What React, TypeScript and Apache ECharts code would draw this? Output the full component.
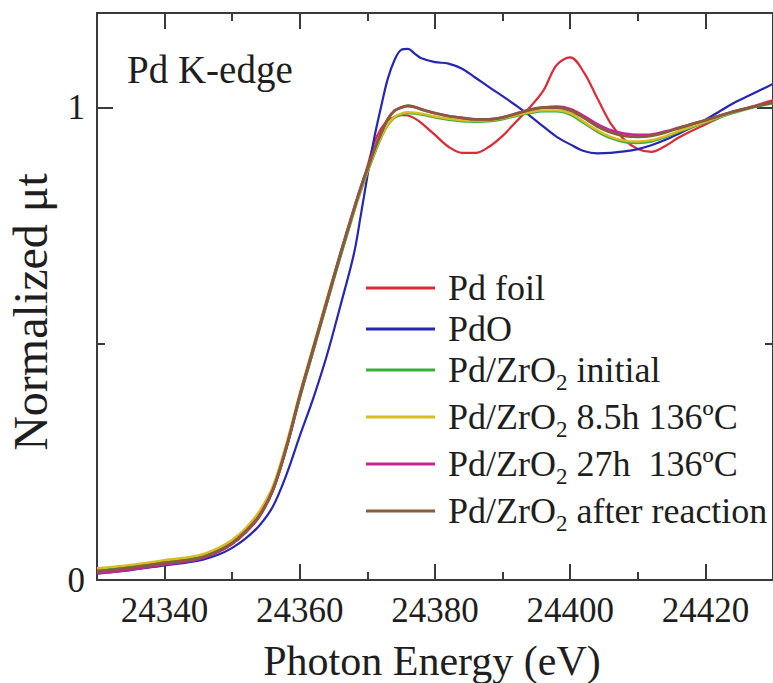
import React, { useEffect, useRef } from "react";
import * as echarts from "echarts";

const energy = [
  24330, 24335, 24340, 24345, 24348, 24350, 24352, 24354, 24356, 24358, 24360, 24362, 24364, 24366, 24368,
  24369, 24370, 24371, 24372, 24373, 24374, 24375, 24376, 24377, 24378,
  24380, 24382, 24384, 24386, 24388, 24390, 24392, 24394, 24396, 24398, 24400, 24402, 24404, 24406, 24408,
  24410, 24412, 24414, 24416, 24418, 24420, 24422, 24424, 24426, 24428, 24430,
];

const pdFoil = [
  0.016, 0.024, 0.034, 0.044, 0.06, 0.076, 0.1, 0.133, 0.188, 0.278, 0.385, 0.485, 0.585, 0.685, 0.78,
  0.83, 0.875, 0.925, 0.955, 0.972, 0.98, 0.984, 0.983, 0.977, 0.967,
  0.942, 0.917, 0.904, 0.904, 0.917, 0.94, 0.97, 1.0, 1.035, 1.09, 1.106, 1.075, 1.02, 0.966, 0.932,
  0.912, 0.906, 0.918, 0.936, 0.951, 0.964, 0.978, 0.99, 0.998, 1.007, 1.015,
];

const pdO = [
  0.014, 0.021, 0.031, 0.041, 0.054, 0.068, 0.088, 0.115, 0.155, 0.222, 0.305, 0.385, 0.475, 0.58, 0.69,
  0.77, 0.855, 0.935, 1.0, 1.06, 1.1, 1.122, 1.124, 1.114, 1.104,
  1.096, 1.093, 1.082, 1.063, 1.043, 1.024, 1.004, 0.983, 0.96, 0.938, 0.922, 0.908, 0.903, 0.904, 0.907,
  0.912, 0.92, 0.931, 0.944, 0.958, 0.974, 0.991, 1.008, 1.022, 1.036, 1.05,
];

const initialZr = [
  0.02, 0.028, 0.038, 0.048, 0.064, 0.08, 0.105, 0.138, 0.19, 0.278, 0.385, 0.485, 0.585, 0.683, 0.778,
  0.822, 0.862, 0.9, 0.935, 0.962, 0.978, 0.985, 0.988, 0.987, 0.985,
  0.979, 0.974, 0.971, 0.97, 0.971, 0.975, 0.982, 0.988, 0.992, 0.992, 0.985, 0.967, 0.949, 0.935, 0.927,
  0.925, 0.928, 0.937, 0.948, 0.958, 0.968, 0.978, 0.988, 0.996, 1.003, 1.009,
];

const h85Zr = [
  0.025, 0.032, 0.042, 0.052, 0.068, 0.085, 0.11, 0.145, 0.198, 0.288, 0.395, 0.495, 0.595, 0.69, 0.782,
  0.825, 0.865, 0.903, 0.937, 0.964, 0.98, 0.987, 0.99, 0.989, 0.987,
  0.981, 0.976, 0.973, 0.972, 0.973, 0.977, 0.984, 0.99, 0.994, 0.994, 0.988, 0.97, 0.952, 0.938, 0.93,
  0.928, 0.931, 0.939, 0.95, 0.96, 0.97, 0.98, 0.99, 0.998, 1.005, 1.011,
];

const h27Zr = [
  0.014, 0.022, 0.033, 0.044, 0.06, 0.077, 0.102, 0.135, 0.19, 0.28, 0.39, 0.49, 0.59, 0.69, 0.785,
  0.83, 0.87, 0.91, 0.945, 0.975, 0.993, 1.0, 1.003, 1.001, 0.996,
  0.988, 0.982, 0.978, 0.975, 0.975, 0.979, 0.987, 0.995, 1.0, 1.002, 0.997, 0.982, 0.965, 0.952, 0.945,
  0.942, 0.943, 0.949, 0.957, 0.965, 0.973, 0.982, 0.991, 0.998, 1.005, 1.011,
];

const afterZr = [
  0.018, 0.026, 0.036, 0.046, 0.062, 0.078, 0.103, 0.136, 0.19, 0.28, 0.39, 0.49, 0.59, 0.69, 0.785,
  0.83, 0.87, 0.91, 0.945, 0.975, 0.993, 1.0, 1.004, 1.001, 0.996,
  0.988, 0.982, 0.978, 0.975, 0.975, 0.979, 0.987, 0.995, 1.0, 1.0, 0.994, 0.978, 0.96, 0.947, 0.94,
  0.938, 0.94, 0.947, 0.956, 0.965, 0.973, 0.982, 0.991, 0.998, 1.005, 1.011,
];

const seriesNames = [
  "Pd foil",
  "PdO",
  "Pd/ZrO2 initial",
  "Pd/ZrO2 8.5h 136ºC",
  "Pd/ZrO2 27h  136ºC",
  "Pd/ZrO2 after reaction",
];
const seriesValues = [pdFoil, pdO, initialZr, h85Zr, h27Zr, afterZr];
const seriesColors = ["#dc2a36", "#2626b4", "#3aae3a", "#d8bc22", "#c8249a", "#8a5a3c"];
const seriesWidths = [2.2, 2.2, 2.4, 2.4, 2.6, 2.8];

const xMajorTicks = [24340, 24360, 24380, 24400, 24420];
const xMinorTicks = [24350, 24370, 24390, 24410];
const yMajorTicks = [0, 1];
const yMinorTicks = [0.5];

const FONT = "Liberation Serif";
const AXIS_COLOR = "#3a3a3a";
const TEXT_COLOR = "#1e1e1e";

export default function App() {
  const ref = useRef<HTMLDivElement>(null);

  useEffect(() => {
    if (!ref.current) return;
    const chart = echarts.init(ref.current, undefined, { renderer: "svg" });

    const xBase = {
      type: "value",
      min: 24330,
      max: 24430,
      splitLine: { show: false },
    };
    const yBase = {
      type: "value",
      min: 0,
      max: 1.2,
      splitLine: { show: false },
    };

    const mkX = (position: string, ticks: number[], len: number, labels: boolean, line: boolean) => ({
      ...xBase,
      position,
      axisLine: { show: line, onZero: false, lineStyle: { color: AXIS_COLOR, width: 2 } },
      axisTick: { show: true, inside: true, length: len, customValues: ticks, lineStyle: { color: AXIS_COLOR, width: 2 } },
      axisLabel: labels
        ? {
            show: true,
            customValues: ticks,
            fontFamily: FONT,
            fontSize: 35,
            color: TEXT_COLOR,
            margin: 13,
            formatter: (v: number) => String(v),
          }
        : { show: false },
    });
    const mkY = (position: string, ticks: number[], len: number, labels: boolean, line: boolean) => ({
      ...yBase,
      position,
      axisLine: { show: line, onZero: false, lineStyle: { color: AXIS_COLOR, width: 2 } },
      axisTick: { show: true, inside: true, length: len, customValues: ticks, lineStyle: { color: AXIS_COLOR, width: 2 } },
      axisLabel: labels
        ? {
            show: true,
            customValues: ticks,
            fontFamily: FONT,
            fontSize: 35,
            color: TEXT_COLOR,
            margin: 12,
            formatter: (v: number) => String(v),
          }
        : { show: false },
    });

    const legendFormatter = (name: string) => {
      if (name.indexOf("ZrO2") >= 0) {
        const parts = name.split("ZrO2");
        return `{g|}{n|${parts[0]}ZrO}{s|2}{n|${parts[1]}}`;
      }
      return `{g|}{m|${name}}`;
    };

    chart.setOption({
      animation: false,
      backgroundColor: "#ffffff",
      grid: { left: 97, top: 13, right: -8, bottom: 103, containLabel: false },
      xAxis: [
        mkX("bottom", xMajorTicks, 16, true, true),
        mkX("bottom", xMinorTicks, 8, false, false),
        mkX("top", xMajorTicks, 16, false, true),
        mkX("top", xMinorTicks, 8, false, false),
      ],
      yAxis: [
        mkY("left", yMajorTicks, 16, true, true),
        mkY("left", yMinorTicks, 8, false, false),
        mkY("right", yMajorTicks, 16, false, true),
        mkY("right", yMinorTicks, 8, false, false),
      ],
      legend: {
        show: true,
        orient: "vertical",
        left: 366,
        top: 270,
        padding: 0,
        itemGap: 5,
        itemWidth: 69,
        itemHeight: 3,
        icon: "rect",
        data: seriesNames.map((name, i) => ({
          name,
          icon: "rect",
          itemStyle: { color: seriesColors[i] },
        })),
        formatter: legendFormatter,
        textStyle: {
          fontFamily: FONT,
          color: TEXT_COLOR,
          rich: {
            g: { width: 8 },
            m: { fontFamily: FONT, fontSize: 36, color: TEXT_COLOR },
            n: { fontFamily: FONT, fontSize: 36, color: TEXT_COLOR, lineHeight: 48 },
            s: { fontFamily: FONT, fontSize: 23, color: TEXT_COLOR, lineHeight: 26, verticalAlign: "bottom" },
          },
        },
      },
      graphic: [
        {
          type: "text",
          left: 127,
          top: 50,
          style: { text: "Pd K-edge", fontFamily: FONT, fontSize: 39, fill: TEXT_COLOR },
        },
        {
          type: "text",
          x: 432,
          y: 661,
          style: {
            text: "Photon Energy (eV)",
            fontFamily: FONT,
            fontSize: 42,
            fill: TEXT_COLOR,
            textAlign: "center",
            textVerticalAlign: "middle",
          },
        },
        {
          type: "text",
          x: 30,
          y: 312,
          rotation: Math.PI / 2,
          style: {
            text: "Normalized μt",
            fontFamily: FONT,
            fontSize: 48,
            fill: TEXT_COLOR,
            textAlign: "center",
            textVerticalAlign: "middle",
          },
        },
      ],
      series: seriesNames.map((name, i) => ({
        name,
        type: "line",
        xAxisIndex: 0,
        yAxisIndex: 0,
        symbol: "none",
        smooth: 0.35,
        lineStyle: { color: seriesColors[i], width: seriesWidths[i] },
        itemStyle: { color: seriesColors[i] },
        data: energy.map((e, j) => [e, seriesValues[i][j]]),
        z: 2 + i,
      })),
    });

    return () => chart.dispose();
  }, []);

  return (
    <div
      ref={ref}
      style={{ position: "fixed", left: 0, top: 0, width: 773, height: 683, background: "#fff" }}
    />
  );
}
